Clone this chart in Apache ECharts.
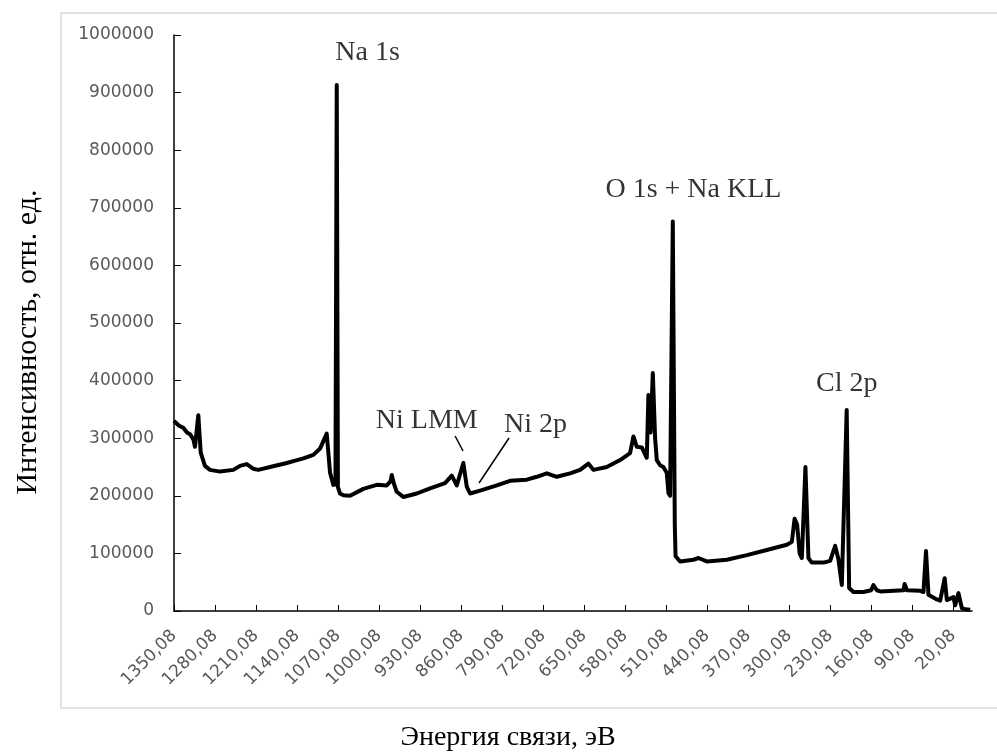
<!DOCTYPE html>
<html><head><meta charset="utf-8">
<script src="https://cdn.jsdelivr.net/npm/echarts@6/dist/echarts.min.js"></script>
<style>html,body{margin:0;padding:0;background:#fff}#c{width:997px;height:755px}</style>
</head><body><div id="c"></div>
<script>
// Binding energy (eV) of traced spectrum points
const energy = [
 1350.08, 1342.0, 1334.2, 1328.0, 1322.8, 1317.0, 1314.3, 1312.0, 1308.6, 1304.5, 1297.2, 1288.6, 1271.5,
 1248.8, 1237.4, 1226.0, 1215.0, 1206.2, 1186.2, 1170.0, 1157.7, 1140.0, 1129.3, 1112.2, 1100.8,
 1089.4, 1083.7, 1078.1, 1074.5, 1072.3, 1070.3, 1066.7, 1061.0, 1049.6, 1026.9,
 1004.0, 987.0, 980.5, 978.4, 975.0, 970.0, 958.6, 935.7, 913.0, 887.4,
 876.0, 867.4, 856.2, 850.4, 844.7, 827.6, 799.1, 776.4, 747.9, 730.9,
 713.8, 696.7, 674.0, 656.9, 642.8, 634.2, 611.4, 588.6, 571.6, 565.9,
 560.1, 551.6, 543.1, 540.3, 536.6, 532.8, 528.9, 526.0, 520.4, 514.8,
 509.0, 506.2, 503.3, 498.7, 495.3, 494.0, 486.2, 463.5, 455.0, 440.6,
 406.5, 372.3, 338.2, 304.0, 295.5, 290.8, 286.5, 282.2, 278.4, 272.3,
 267.2, 261.4, 241.5, 230.1, 221.6, 216.0, 210.2, 207.4, 201.9, 197.7,
 190.3, 173.3, 160.2, 156.2, 150.4, 144.7, 105.0, 103.0, 99.2, 76.5,
 70.8, 66.5, 62.3, 48.0, 42.3, 34.6, 30.9, 19.6, 16.7, 11.1,
 5.3, -0.3, -8.9
];
// Intensity (arb. units) at those energies
const intensity = [
 330000, 322000, 318000, 310000, 307000, 298000, 285000, 287000, 340000, 275000, 252000, 245000, 242000,
 245000, 252000, 255000, 247000, 245000, 250000, 254000, 257000, 262000, 265000, 271000, 282000,
 308000, 240000, 219000, 220000, 913000, 215000, 204000, 201000, 200000, 212000,
 219000, 218000, 225000, 236000, 222000, 207000, 198000, 204000, 213000, 222000,
 235000, 218000, 257000, 216000, 204000, 209000, 218000, 226000, 228000, 233000,
 239000, 233000, 239000, 245000, 256000, 245000, 250000, 262000, 274000, 303000,
 285000, 284000, 266000, 375000, 310000, 413000, 300000, 262000, 253000, 250000,
 240000, 205000, 200000, 676000, 150000, 95000, 86000, 89000, 92000, 86000,
 89000, 97000, 106000, 115000, 120000, 160000, 150000, 100000, 92000, 250000,
 92000, 84000, 84000, 87000, 113000, 90000, 45000, 45000, 349000, 40000,
 33000, 33000, 36000, 45000, 36000, 34000, 36000, 47000, 36000, 35000,
 33000, 104000, 28000, 20000, 18000, 57000, 19000, 24000, 10000, 31000,
 5000, 3000, 2000
];
const xTickValues = [1350.08, 1280.08, 1210.08, 1140.08, 1070.08, 1000.08, 930.08, 860.08,
 790.08, 720.08, 650.08, 580.08, 510.08, 440.08, 370.08, 300.08, 230.08, 160.08, 90.08, 20.08];
const annotationNames = ['Na 1s', 'O 1s + Na KLL', 'Cl 2p', 'Ni LMM', 'Ni 2p'];
const annotationEnergy = [1019.7, 463.5, 201.9, 918.7, 732.9];
const annotationIntensity = [968700, 731700, 394000, 330200, 323800];
const leaderFrom = [[870.3, 303800], [778.2, 300300]];
const leaderTo = [[856.7, 277800], [829.4, 222200]];
const yTitle = 'Интенсивность, отн. ед.';
const xTitle = 'Энергия связи, эВ';

const chart = echarts.init(document.getElementById('c'), null, {renderer: 'canvas'});
const serif = '"Liberation Serif", "Times New Roman", serif';
chart.setOption({
  animation: false,
  backgroundColor: '#fff',
  grid: {left: 174, right: 25, top: 35, bottom: 144},
  graphic: [
    {type: 'rect', shape: {x: 61, y: 13, width: 960, height: 695},
     style: {fill: 'none', stroke: '#d9d9d9', lineWidth: 1.5}, silent: true},
    {type: 'text', x: 28, y: 342, rotation: Math.PI / 2,
     style: {text: yTitle, font: '30px ' + serif, fill: '#000', textAlign: 'center', textVerticalAlign: 'middle'}},
    {type: 'text', x: 508, y: 738,
     style: {text: xTitle, font: '28px ' + serif, fill: '#000', textAlign: 'center', textVerticalAlign: 'middle'}}
  ],
  xAxis: {
    type: 'value', inverse: true, min: -12, max: 1350.08,
    axisLine: {show: true, onZero: false, lineStyle: {color: '#000', width: 1.5}},
    axisTick: {show: true, inside: true, length: 6, customValues: xTickValues, lineStyle: {color: '#000', width: 1}},
    axisLabel: {customValues: xTickValues, rotate: 45, margin: 22, color: '#595959',
      fontFamily: 'DejaVu Sans', fontSize: 17,
      formatter: v => Number(v).toFixed(2).replace('.', ',')},
    splitLine: {show: false}
  },
  yAxis: {
    type: 'value', min: 0, max: 1000000, interval: 100000,
    axisLine: {show: true, onZero: false, lineStyle: {color: '#000', width: 1.5}},
    axisTick: {show: true, inside: true, length: 7, lineStyle: {color: '#000', width: 1}},
    axisLabel: {color: '#595959', fontFamily: 'DejaVu Sans', fontSize: 17, margin: 20,
      formatter: v => String(v)},
    splitLine: {show: false}
  },
  series: [
    {
      type: 'line', showSymbol: false, symbol: 'none', silent: true,
      lineStyle: {color: '#000', width: 4, join: 'round'},
      data: energy.map((e, i) => [e, intensity[i]])
    },
    {
      type: 'scatter', symbolSize: 0, silent: true,
      data: annotationNames.map((n, i) => ({name: n, value: [annotationEnergy[i], annotationIntensity[i]]})),
      label: {show: true, position: 'inside', formatter: '{b}', color: '#000',
        fontFamily: serif, fontSize: 28},
      markLine: {
        silent: true, symbol: ['none', 'none'],
        lineStyle: {color: '#000', width: 1.5, type: 'solid'},
        label: {show: false},
        data: leaderFrom.map((p, i) => [{coord: p}, {coord: leaderTo[i]}])
      }
    }
  ]
});
</script>
</body></html>
